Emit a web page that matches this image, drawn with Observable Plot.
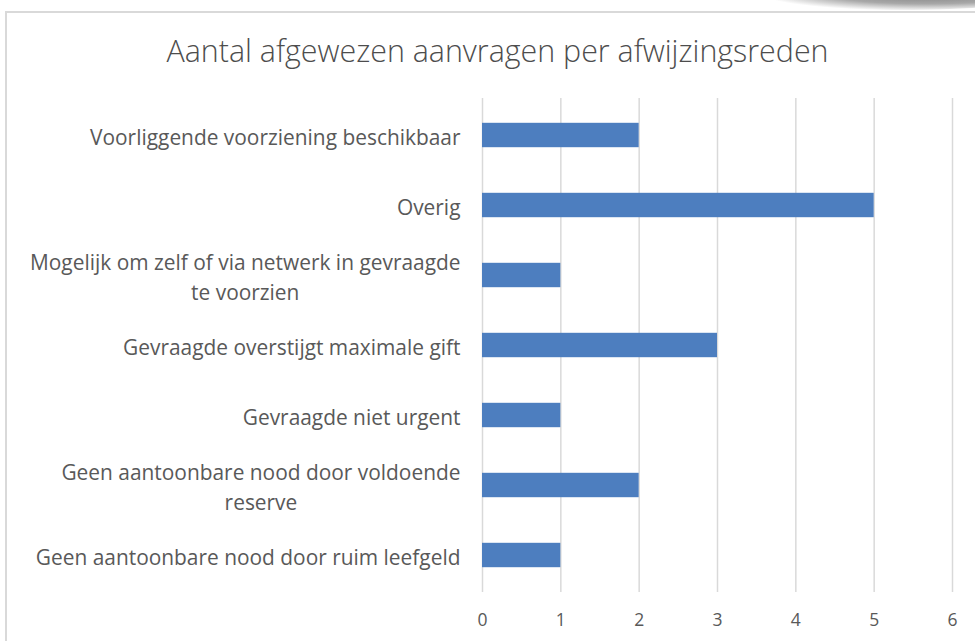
<!DOCTYPE html>
<html>
<head>
<meta charset="utf-8">
<script src="https://cdn.jsdelivr.net/npm/d3@7"></script>
<script src="https://cdn.jsdelivr.net/npm/@observablehq/plot@0.6"></script>
<style>
  html, body { margin: 0; padding: 0; background: #fff; }
  #wrap { position: relative; width: 975px; height: 641px; overflow: hidden; font-family: "Open Sans", sans-serif; }
  #frame { position: absolute; left: 5px; top: 11px; width: 1000px; height: 700px; border-top: 2px solid #d9d9d9; border-left: 2px solid #d9d9d9; box-sizing: border-box; }
  #shadow { position: absolute; left: 770px; top: -14px; width: 260px; height: 24px; border-radius: 50%; background: radial-gradient(ellipse at 60% 30%, #7a7a7a 0%, #a8a8a8 45%, rgba(255,255,255,0) 75%); }
  #title { position: absolute; left: 0; top: 29px; width: 995px; text-align: center; font-size: 30.4px; font-weight: 300; color: #4d4d4d; line-height: 44px; }
  #chart { position: absolute; left: 0; top: 85px; }
</style>
</head>
<body>
<div id="wrap">
  <div id="shadow"></div>
  <div id="frame"></div>
  <div id="title">Aantal afgewezen aanvragen per afwijzingsreden</div>
  <div id="chart"></div>
</div>
<script>
const categories = [
  "Voorliggende voorziening beschikbaar",
  "Overig",
  "Mogelijk om zelf of via netwerk in gevraagde\nte voorzien",
  "Gevraagde overstijgt maximale gift",
  "Gevraagde niet urgent",
  "Geen aantoonbare nood door voldoende\nreserve",
  "Geen aantoonbare nood door ruim leefgeld"
];
const values = [2, 5, 1, 3, 1, 2, 1];
const xTicks = [0, 1, 2, 3, 4, 5, 6];

const data = categories.map((c, i) => ({reason: c, count: values[i]}));

const plot = Plot.plot({
  width: 975,
  height: 556,
  marginTop: 13,
  marginBottom: 49,
  marginLeft: 482,
  marginRight: 23,
  style: {fontFamily: "Open Sans, sans-serif", color: "#595959", background: "transparent"},
  x: {domain: [0, 6], ticks: xTicks, label: null},
  y: {domain: categories, padding: 0, label: null},
  marks: [
    Plot.ruleX(xTicks, {stroke: "#d9d9d9", strokeWidth: 1.5}),
    Plot.barX(data, {x: "count", y: "reason", fill: "#4d7ebf", insetTop: 22.8, insetBottom: 22.8}),
    Plot.axisX({ticks: xTicks, tickFormat: d3.format("d"), tickSize: 0, tickPadding: 21, fontSize: 17.5, fill: "#595959", label: null}),
    Plot.axisY({tickSize: 0, tickPadding: 22, fontSize: 20.9, fill: "#595959", label: null, lineHeight: 1.43})
  ]
});
document.getElementById("chart").appendChild(plot);

// center wrapped label lines within their block, block right-aligned
d3.select(plot).selectAll("text").each(function() {
  const tspans = Array.from(this.querySelectorAll("tspan"));
  if (tspans.length < 2) return;
  const bb = this.getBBox();
  const right = bb.x + bb.width;
  const widths = tspans.map(n => n.getComputedTextLength());
  const maxW = Math.max(...widths);
  this.removeAttribute("dx");
  this.setAttribute("text-anchor", "middle");
  tspans.forEach(n => {
    n.removeAttribute("dx");
    n.setAttribute("text-anchor", "middle");
    n.setAttribute("x", right - maxW / 2);
  });
});
</script>
</body>
</html>
